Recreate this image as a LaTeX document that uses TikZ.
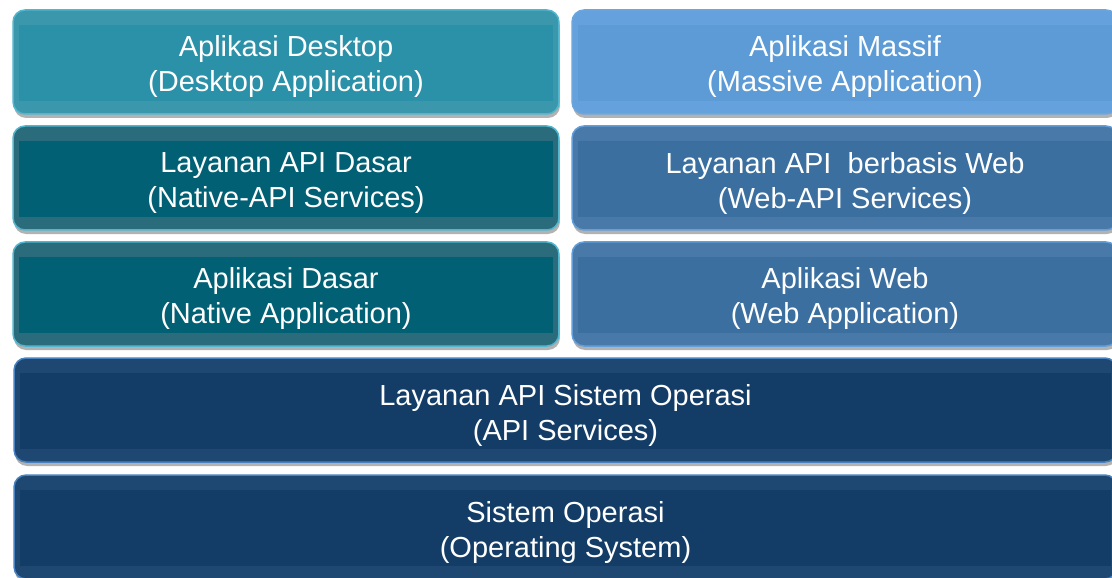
\documentclass[tikz,border=0pt]{standalone}
\usepackage{fontspec}
\setmainfont{Liberation Sans}
\usepackage{tikz}
\usetikzlibrary{shadows}
\usepackage{xcolor}
\definecolor{desk}{RGB}{43,145,168}
\definecolor{deskband}{RGB}{58,151,172}
\definecolor{deskline}{RGB}{82,182,206}
\definecolor{mass}{RGB}{92,155,213}
\definecolor{massband}{RGB}{101,161,220}
\definecolor{massline}{RGB}{108,166,222}
\definecolor{native}{RGB}{2,96,116}
\definecolor{nativeband}{RGB}{42,108,124}
\definecolor{nativeline}{RGB}{82,182,206}
\definecolor{web}{RGB}{58,111,160}
\definecolor{webband}{RGB}{72,121,168}
\definecolor{webline}{RGB}{100,158,216}
\definecolor{os}{RGB}{19,61,102}
\definecolor{osband}{RGB}{30,72,113}
\definecolor{osline}{RGB}{72,130,192}

\begin{document}
\begin{tikzpicture}[x=1bp, y=-1bp,
  layer/.style={draw=#1line, fill=#1band, line width=1.5bp, rounded corners=12bp,
    minimum height=104bp, inner sep=0pt,
    drop shadow={shadow xshift=1bp, shadow yshift=-4bp, fill=black, opacity=0.3},
    path picture={\fill[#1, sharp corners] ([xshift=6bp,yshift=-15bp]path picture bounding box.north west)
      rectangle ([xshift=-6bp,yshift=13bp]path picture bounding box.south east);}},
  layertext/.style={yshift=-5bp, inner sep=0pt, text=white, align=center,
    font=\fontsize{29bp}{35bp}\selectfont}]
  \fill[white] (0,0) rectangle (1112,578);
  \useasboundingbox (0,0) rectangle (1112,578);
  % two columns, then the full-width layers
  \foreach \n/\cx/\cy/\w/\c/\t in {
      desktop/286/62/548/desk/{Aplikasi Desktop\\(Desktop Application)},
      massive/845/62/548/mass/{Aplikasi Massif\\(Massive Application)},
      nativeapi/286/178/548/native/{Layanan API Dasar\\(Native-API Services)},
      webapi/845/178/548/web/{Layanan API\ \ berbasis Web\\(Web-API Services)},
      nativeapp/286/294/548/native/{Aplikasi Dasar\\(Native Application)},
      webapp/845/294/548/web/{Aplikasi Web\\(Web Application)},
      apiservices/565.5/410/1107/os/{Layanan API Sistem Operasi\\(API Services)},
      opsys/565.5/527/1107/os/{Sistem Operasi\\(Operating System)}} {
    \node[layer=\c, minimum width=\w, label={[layertext]center:{\t}}] (\n) at (\cx,\cy) {};
  }
\end{tikzpicture}
\end{document}
